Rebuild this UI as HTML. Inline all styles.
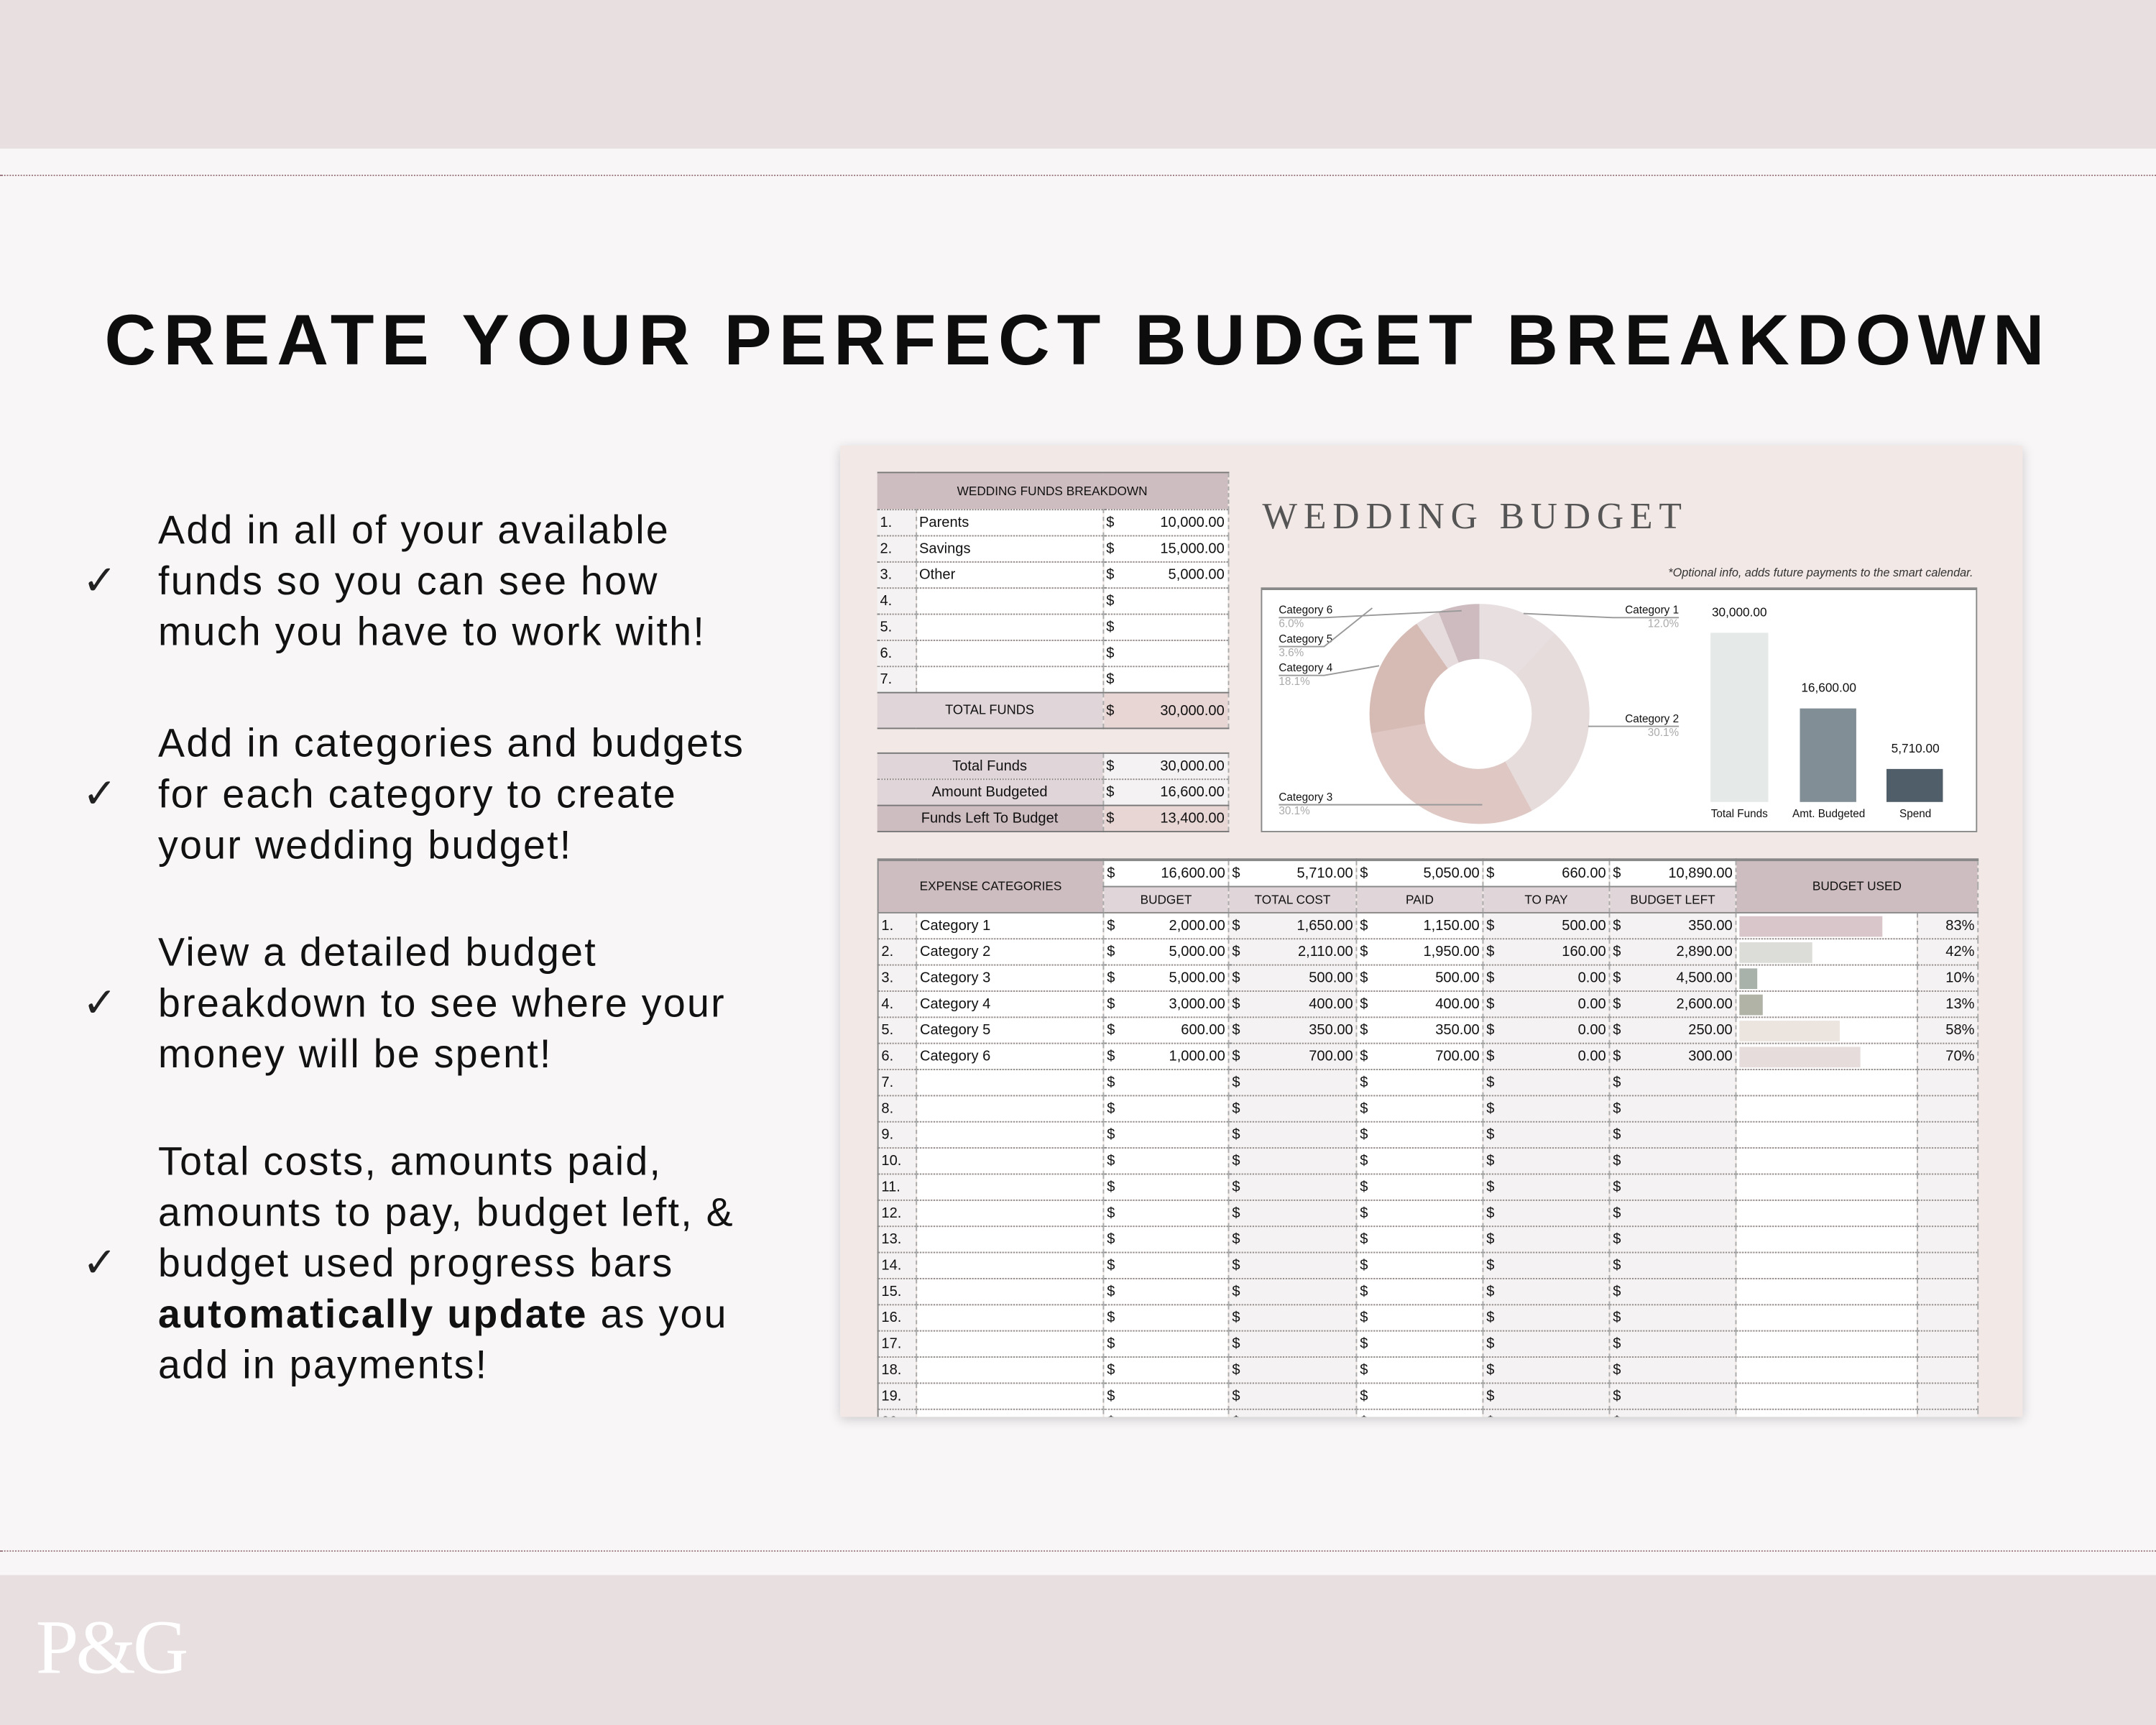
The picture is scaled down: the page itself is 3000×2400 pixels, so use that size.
<!DOCTYPE html>
<html><head><meta charset="utf-8">
<style>
*{margin:0;padding:0;box-sizing:border-box}
html,body{width:3000px;height:2400px;overflow:hidden;background:#f8f6f7}
#w{position:absolute;left:0;top:0;width:1568px;height:1254px;transform:scale(1.91327,1.91388);transform-origin:0 0;font-family:"Liberation Sans",sans-serif;color:#111}
.a{position:absolute}
.band{position:absolute;left:0;width:1568px;background:#e7dfe0}
.dot{position:absolute;left:0;width:1568px;border-top:1.5px dotted #9c7a82}
.title{position:absolute;left:0;width:1568px;top:218px;text-align:center;font-weight:bold;font-size:52px;letter-spacing:5.2px;color:#0d0d0d}
.b{position:absolute;left:115px;font-size:29px;letter-spacing:1.2px;line-height:37px;color:#111}
.chk{position:absolute;left:60px;font-size:30px;color:#222}
.sheet{position:absolute;left:611px;top:324px;width:860px;height:706px;background:#f2e8e6;box-shadow:0 2px 8px rgba(0,0,0,.18);overflow:hidden}
table{border-collapse:collapse;table-layout:fixed;position:absolute;font-size:10.5px}
td{height:19px;border-bottom:1px dotted #888;border-right:1px dashed #aaa;padding:0 2px;white-space:nowrap;overflow:hidden}
.r{text-align:right}
.c{text-align:center}
.g{background:#f4f2f3}
.wt{background:#fff}
.hd{background:#cdbcc0}
.hl{background:#e0d5d8}
.pk{background:#e8d6d4}
.bar{height:15px;margin-top:1px}
</style></head><body><div id="w">
<div class="band" style="top:0;height:108px"></div>
<div class="dot" style="top:127px"></div>
<div class="dot" style="top:1127px"></div>
<div class="band" style="top:1145px;height:109px"></div>
<div class="a" style="left:26px;top:1166px;font-family:'Liberation Serif',serif;font-size:56px;color:#fff;letter-spacing:-2px">P&amp;G</div>

<div class="title">CREATE YOUR PERFECT BUDGET BREAKDOWN</div>

<div class="b" style="top:368px">Add in all of your available<br>funds so you can see how<br>much you have to work with!</div>
<div class="chk" style="top:405px">✓</div>
<div class="b" style="top:523px">Add in categories and budgets<br>for each category to create<br>your wedding budget!</div>
<div class="chk" style="top:560px">✓</div>
<div class="b" style="top:675px">View a detailed budget<br>breakdown to see where your<br>money will be spent!</div>
<div class="chk" style="top:712px">✓</div>
<div class="b" style="top:827px">Total costs, amounts paid,<br>amounts to pay, budget left, &amp;<br>budget used progress bars<br><b>automatically update</b> as you<br>add in payments!</div>
<div class="chk" style="top:901px">✓</div>

<div class="sheet">
<table style="left:27px;top:19px;width:255px;border-top:1px solid #777;border-bottom:1px solid #777">
<colgroup><col style="width:28px"><col style="width:136px"><col style="width:91px"></colgroup>
<tr><td colspan="3" class="hd c" style="height:27px;font-size:9px">WEDDING FUNDS BREAKDOWN</td></tr>
<tr><td class="g">1.</td><td class="wt">Parents</td><td class="wt">$<span style="float:right">10,000.00</span></td></tr>
<tr><td class="g">2.</td><td class="wt">Savings</td><td class="wt">$<span style="float:right">15,000.00</span></td></tr>
<tr><td class="g">3.</td><td class="wt">Other</td><td class="wt">$<span style="float:right">5,000.00</span></td></tr>
<tr><td class="g">4.</td><td class="wt"></td><td class="wt">$</td></tr>
<tr><td class="g">5.</td><td class="wt"></td><td class="wt">$</td></tr>
<tr><td class="g">6.</td><td class="wt"></td><td class="wt">$</td></tr>
<tr><td class="g">7.</td><td class="wt"></td><td class="wt">$</td></tr>
<tr><td colspan="2" class="hl c" style="height:26px;font-size:9.5px;border-top:1px solid #777">TOTAL FUNDS</td><td class="pk" style="border-top:1px solid #777">$<span style="float:right">30,000.00</span></td></tr>
</table>
<table style="left:27px;top:223px;width:255px;border-top:1px solid #777;border-bottom:1px solid #777">
<colgroup><col style="width:164px"><col style="width:91px"></colgroup>
<tr><td class="hl c">Total Funds</td><td class="g">$<span style="float:right">30,000.00</span></td></tr>
<tr><td class="hl c">Amount Budgeted</td><td class="g">$<span style="float:right">16,600.00</span></td></tr>
<tr><td class="hd c" style="border-top:1px solid #777">Funds Left To Budget</td><td class="pk" style="border-top:1px solid #777">$<span style="float:right">13,400.00</span></td></tr>
</table>

<div class="a" style="left:307px;top:36px;font-family:'Liberation Serif',serif;font-size:27px;letter-spacing:4.6px;color:#555;font-weight:normal">WEDDING BUDGET</div>
<div class="a" style="left:500px;top:87px;width:324px;text-align:right;font-size:8.5px;font-style:italic;color:#333">*Optional info, adds future payments to the smart calendar.</div>

<div class="a" style="left:306px;top:103px;width:521px;height:178px;background:#fff;border:1px solid #888;border-top:2px solid #888">
 <div class="a" style="left:78px;top:10px;width:160px;height:160px;border-radius:50%;background:conic-gradient(#e8dfe0 0 12%,#e6dcdb 12% 42.1%,#dfc8c4 42.1% 72.2%,#d6bab4 72.2% 90.3%,#e6dbdd 90.3% 93.9%,#cdbbbf 93.9% 100%)"></div>
 <div class="a" style="left:118px;top:50px;width:78px;height:80px;border-radius:50%;background:#fff"></div>
 <div class="a" style="font-size:8px;left:12px;top:10px;line-height:10px">Category 6<br><span style="color:#aaa">6.0%</span></div>
 <div class="a" style="font-size:8px;left:12px;top:31px;line-height:10px">Category 5<br><span style="color:#aaa">3.6%</span></div>
 <div class="a" style="font-size:8px;left:12px;top:52px;line-height:10px">Category 4<br><span style="color:#aaa">18.1%</span></div>
 <div class="a" style="font-size:8px;left:12px;top:146px;line-height:10px">Category 3<br><span style="color:#aaa">30.1%</span></div>
 <div class="a" style="font-size:8px;left:243px;top:10px;line-height:10px;text-align:right;width:60px">Category 1<br><span style="color:#aaa">12.0%</span></div>
 <div class="a" style="font-size:8px;left:243px;top:89px;line-height:10px;text-align:right;width:60px">Category 2<br><span style="color:#aaa">30.1%</span></div>
 <svg class="a" style="left:0;top:0" width="521" height="178"><g stroke="#999" stroke-width="1" fill="none">
  <path d="M12 20 H45 L145 15"/><path d="M12 41 H45 L80 13"/><path d="M12 62 H45 L85 55"/><path d="M12 156 H160"/>
  <path d="M303 20 H255 L190 17"/><path d="M303 99 H237"/></g></svg>
 <div class="a" style="left:326px;top:31px;width:42px;height:123px;background:#e5e9e8"></div>
 <div class="a" style="left:391px;top:86px;width:41px;height:68px;background:#818e96"></div>
 <div class="a" style="left:454px;top:130px;width:41px;height:24px;background:#505e6a"></div>
 <div class="a" style="left:316px;top:11px;width:62px;text-align:center;font-size:9px">30,000.00</div>
 <div class="a" style="left:381px;top:66px;width:62px;text-align:center;font-size:9px">16,600.00</div>
 <div class="a" style="left:444px;top:110px;width:62px;text-align:center;font-size:9px">5,710.00</div>
 <div class="a" style="left:316px;top:158px;width:62px;text-align:center;font-size:8px">Total Funds</div>
 <div class="a" style="left:378px;top:158px;width:68px;text-align:center;font-size:8px">Amt. Budgeted</div>
 <div class="a" style="left:444px;top:158px;width:62px;text-align:center;font-size:8px">Spend</div>
</div>

<table style="left:27px;top:300px;width:800px;border-top:2px solid #888;border-left:1px solid #888">
<colgroup><col style="width:28px"><col style="width:136px"><col style="width:91px"><col style="width:93px"><col style="width:92px"><col style="width:92px"><col style="width:92px"><col style="width:132px"><col style="width:44px"></colgroup>
<tr><td colspan="2" rowspan="2" class="hd c" style="font-size:9px">EXPENSE CATEGORIES</td>
<td class="wt">$<span style="float:right">16,600.00</span></td><td class="wt">$<span style="float:right">5,710.00</span></td><td class="wt">$<span style="float:right">5,050.00</span></td><td class="wt">$<span style="float:right">660.00</span></td><td class="wt">$<span style="float:right">10,890.00</span></td>
<td colspan="2" rowspan="2" class="hd c" style="font-size:9px">BUDGET USED</td></tr>
<tr><td class="hl c" style="font-size:9px;border-top:1px solid #888">BUDGET</td><td class="hl c" style="font-size:9px;border-top:1px solid #888">TOTAL COST</td><td class="hl c" style="font-size:9px;border-top:1px solid #888">PAID</td><td class="hl c" style="font-size:9px;border-top:1px solid #888">TO PAY</td><td class="hl c" style="font-size:9px;border-top:1px solid #888">BUDGET LEFT</td></tr>
<tr><td class="g" style="border-top:1px solid #888">1.</td><td class="wt" style="border-top:1px solid #888">Category 1</td><td class="wt" style="border-top:1px solid #888">$<span style="float:right">2,000.00</span></td><td class="g" style="border-top:1px solid #888">$<span style="float:right">1,650.00</span></td><td class="wt" style="border-top:1px solid #888">$<span style="float:right">1,150.00</span></td><td class="g" style="border-top:1px solid #888">$<span style="float:right">500.00</span></td><td class="g" style="border-top:1px solid #888">$<span style="float:right">350.00</span></td><td class="wt" style="border-top:1px solid #888"><div class="bar" style="width:104px;background:#d9c6ca"></div></td><td class="g r" style="border-top:1px solid #888">83%</td></tr>
<tr><td class="g">2.</td><td class="wt">Category 2</td><td class="wt">$<span style="float:right">5,000.00</span></td><td class="g">$<span style="float:right">2,110.00</span></td><td class="wt">$<span style="float:right">1,950.00</span></td><td class="g">$<span style="float:right">160.00</span></td><td class="g">$<span style="float:right">2,890.00</span></td><td class="wt"><div class="bar" style="width:53px;background:#dcdcd8"></div></td><td class="g r">42%</td></tr>
<tr><td class="g">3.</td><td class="wt">Category 3</td><td class="wt">$<span style="float:right">5,000.00</span></td><td class="g">$<span style="float:right">500.00</span></td><td class="wt">$<span style="float:right">500.00</span></td><td class="g">$<span style="float:right">0.00</span></td><td class="g">$<span style="float:right">4,500.00</span></td><td class="wt"><div class="bar" style="width:13px;background:#a8b1aa"></div></td><td class="g r">10%</td></tr>
<tr><td class="g">4.</td><td class="wt">Category 4</td><td class="wt">$<span style="float:right">3,000.00</span></td><td class="g">$<span style="float:right">400.00</span></td><td class="wt">$<span style="float:right">400.00</span></td><td class="g">$<span style="float:right">0.00</span></td><td class="g">$<span style="float:right">2,600.00</span></td><td class="wt"><div class="bar" style="width:17px;background:#b1b3a7"></div></td><td class="g r">13%</td></tr>
<tr><td class="g">5.</td><td class="wt">Category 5</td><td class="wt">$<span style="float:right">600.00</span></td><td class="g">$<span style="float:right">350.00</span></td><td class="wt">$<span style="float:right">350.00</span></td><td class="g">$<span style="float:right">0.00</span></td><td class="g">$<span style="float:right">250.00</span></td><td class="wt"><div class="bar" style="width:73px;background:#ebe4df"></div></td><td class="g r">58%</td></tr>
<tr><td class="g">6.</td><td class="wt">Category 6</td><td class="wt">$<span style="float:right">1,000.00</span></td><td class="g">$<span style="float:right">700.00</span></td><td class="wt">$<span style="float:right">700.00</span></td><td class="g">$<span style="float:right">0.00</span></td><td class="g">$<span style="float:right">300.00</span></td><td class="wt"><div class="bar" style="width:88px;background:#e6dcdc"></div></td><td class="g r">70%</td></tr>
<tr><td class="g">7.</td><td class="wt"></td><td class="wt">$</td><td class="g">$</td><td class="wt">$</td><td class="g">$</td><td class="g">$</td><td class="wt"></td><td class="g"></td></tr>
<tr><td class="g">8.</td><td class="wt"></td><td class="wt">$</td><td class="g">$</td><td class="wt">$</td><td class="g">$</td><td class="g">$</td><td class="wt"></td><td class="g"></td></tr>
<tr><td class="g">9.</td><td class="wt"></td><td class="wt">$</td><td class="g">$</td><td class="wt">$</td><td class="g">$</td><td class="g">$</td><td class="wt"></td><td class="g"></td></tr>
<tr><td class="g">10.</td><td class="wt"></td><td class="wt">$</td><td class="g">$</td><td class="wt">$</td><td class="g">$</td><td class="g">$</td><td class="wt"></td><td class="g"></td></tr>
<tr><td class="g">11.</td><td class="wt"></td><td class="wt">$</td><td class="g">$</td><td class="wt">$</td><td class="g">$</td><td class="g">$</td><td class="wt"></td><td class="g"></td></tr>
<tr><td class="g">12.</td><td class="wt"></td><td class="wt">$</td><td class="g">$</td><td class="wt">$</td><td class="g">$</td><td class="g">$</td><td class="wt"></td><td class="g"></td></tr>
<tr><td class="g">13.</td><td class="wt"></td><td class="wt">$</td><td class="g">$</td><td class="wt">$</td><td class="g">$</td><td class="g">$</td><td class="wt"></td><td class="g"></td></tr>
<tr><td class="g">14.</td><td class="wt"></td><td class="wt">$</td><td class="g">$</td><td class="wt">$</td><td class="g">$</td><td class="g">$</td><td class="wt"></td><td class="g"></td></tr>
<tr><td class="g">15.</td><td class="wt"></td><td class="wt">$</td><td class="g">$</td><td class="wt">$</td><td class="g">$</td><td class="g">$</td><td class="wt"></td><td class="g"></td></tr>
<tr><td class="g">16.</td><td class="wt"></td><td class="wt">$</td><td class="g">$</td><td class="wt">$</td><td class="g">$</td><td class="g">$</td><td class="wt"></td><td class="g"></td></tr>
<tr><td class="g">17.</td><td class="wt"></td><td class="wt">$</td><td class="g">$</td><td class="wt">$</td><td class="g">$</td><td class="g">$</td><td class="wt"></td><td class="g"></td></tr>
<tr><td class="g">18.</td><td class="wt"></td><td class="wt">$</td><td class="g">$</td><td class="wt">$</td><td class="g">$</td><td class="g">$</td><td class="wt"></td><td class="g"></td></tr>
<tr><td class="g">19.</td><td class="wt"></td><td class="wt">$</td><td class="g">$</td><td class="wt">$</td><td class="g">$</td><td class="g">$</td><td class="wt"></td><td class="g"></td></tr>
<tr><td class="g">20.</td><td class="wt"></td><td class="wt">$</td><td class="g">$</td><td class="wt">$</td><td class="g">$</td><td class="g">$</td><td class="wt"></td><td class="g"></td></tr>
</table>
</div>
</div></body></html>
